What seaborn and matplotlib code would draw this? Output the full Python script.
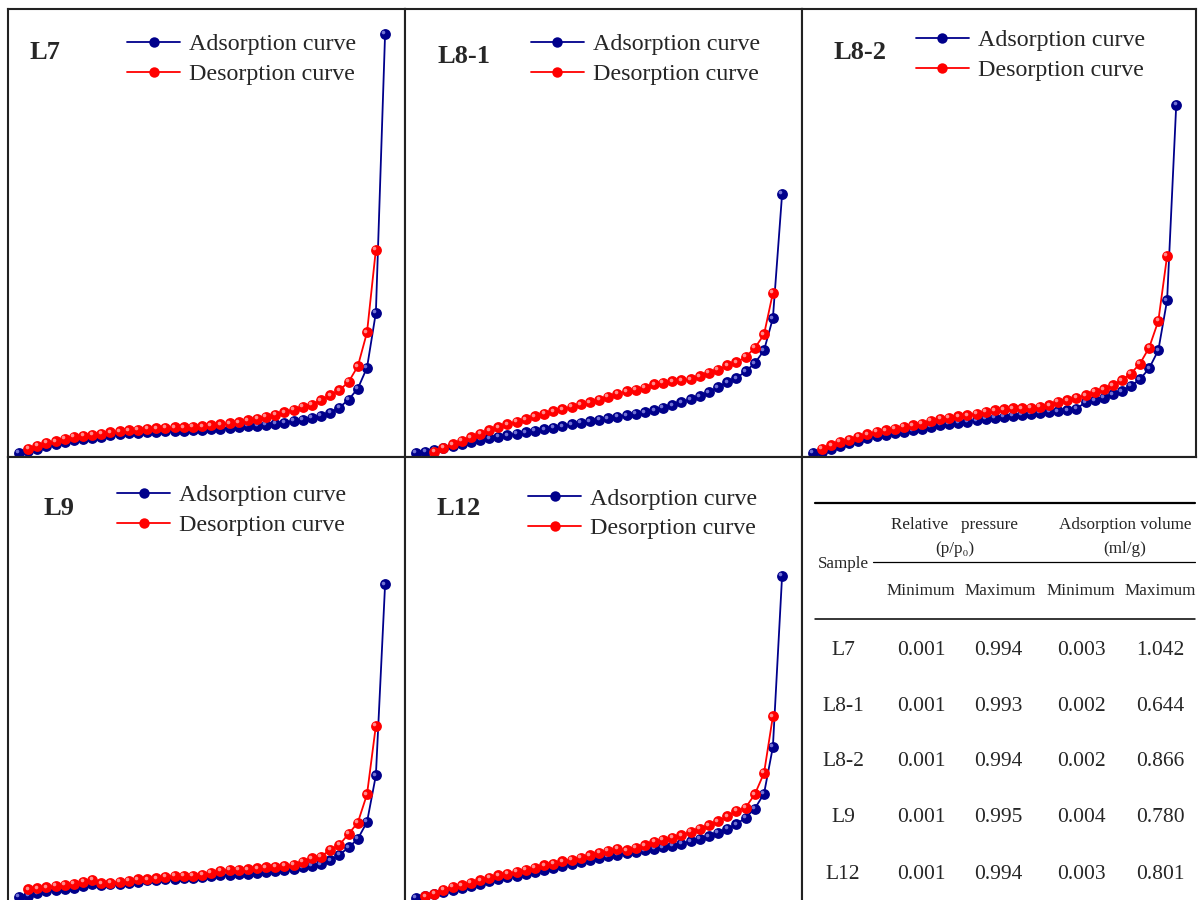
import numpy as np
import matplotlib
matplotlib.use("Agg")
import matplotlib.pyplot as plt
import matplotlib.transforms as mtransforms
import seaborn as sns

# relative pressure grid p/p0 (shared by all samples)
p_rel = [0.001, 0.026, 0.051, 0.075, 0.100, 0.125, 0.150, 0.175, 0.200, 0.224,
         0.249, 0.274, 0.299, 0.324, 0.349, 0.373, 0.398, 0.423, 0.448, 0.473,
         0.498, 0.522, 0.547, 0.572, 0.597, 0.622, 0.647, 0.671, 0.696, 0.721,
         0.746, 0.771, 0.796, 0.820, 0.845, 0.870, 0.895, 0.920, 0.945, 0.969,
         0.994]

# adsorption volume (ml/g)
l7_ads = [0.003, 0.0067, 0.0129, 0.0191, 0.0241, 0.0290, 0.0340, 0.0377, 0.0402, 0.0427,
          0.0464, 0.0489, 0.0514, 0.0526, 0.0538, 0.0551, 0.0563, 0.0576, 0.0576, 0.0588,
          0.0600, 0.0613, 0.0625, 0.0650, 0.0662, 0.0687, 0.0700, 0.0724, 0.0749, 0.0774,
          0.0811, 0.0848, 0.0898, 0.0948, 0.1022, 0.1146, 0.1344, 0.1617, 0.2138, 0.3502,
          1.042]
l7_des = [0.0129, 0.0204, 0.0271, 0.0310, 0.0370, 0.0419, 0.0452, 0.0476, 0.0501, 0.0533,
          0.0558, 0.0583, 0.0600, 0.0618, 0.0633, 0.0643, 0.0657, 0.0657, 0.0667, 0.0682,
          0.0707, 0.0732, 0.0757, 0.0781, 0.0831, 0.0866, 0.0915, 0.0972, 0.1029, 0.1096,
          0.1163, 0.1220, 0.1327, 0.1451, 0.1575, 0.1783, 0.2170, 0.3013, 0.5064]

l81_ads = [0.002, 0.0045, 0.0099, 0.0149, 0.0199, 0.0248, 0.0298, 0.0347, 0.0385, 0.0422,
           0.0459, 0.0496, 0.0533, 0.0571, 0.0608, 0.0645, 0.0682, 0.0732, 0.0769, 0.0806,
           0.0843, 0.0881, 0.0918, 0.0955, 0.0992, 0.1029, 0.1079, 0.1141, 0.1203, 0.1277,
           0.1352, 0.1426, 0.1525, 0.1649, 0.1773, 0.1873, 0.2046, 0.2245, 0.2567, 0.3361,
           0.644]
l81_des = [0.0045, 0.0144, 0.0231, 0.0318, 0.0404, 0.0491, 0.0578, 0.0652, 0.0727, 0.0789,
           0.0851, 0.0925, 0.0987, 0.1049, 0.1099, 0.1161, 0.1223, 0.1272, 0.1334, 0.1409,
           0.1483, 0.1545, 0.1582, 0.1632, 0.1719, 0.1756, 0.1793, 0.1818, 0.1843, 0.1917,
           0.2004, 0.2078, 0.2190, 0.2264, 0.2401, 0.2624, 0.2959, 0.3988]

l82_ads = [0.002, 0.0050, 0.0124, 0.0199, 0.0261, 0.0323, 0.0385, 0.0434, 0.0471, 0.0509,
           0.0546, 0.0583, 0.0620, 0.0670, 0.0719, 0.0744, 0.0769, 0.0794, 0.0831, 0.0868,
           0.0893, 0.0918, 0.0943, 0.0967, 0.0992, 0.1017, 0.1037, 0.1054, 0.1079, 0.1116,
           0.1277, 0.1327, 0.1394, 0.1476, 0.1550, 0.1682, 0.1848, 0.2121, 0.2567, 0.3807,
           0.866]
l82_des = [0.0129, 0.0211, 0.0293, 0.0352, 0.0417, 0.0484, 0.0541, 0.0583, 0.0625, 0.0665,
           0.0707, 0.0749, 0.0814, 0.0873, 0.0898, 0.0930, 0.0955, 0.0997, 0.1037, 0.1079,
           0.1104, 0.1124, 0.1124, 0.1143, 0.1168, 0.1203, 0.1285, 0.1327, 0.1384, 0.1451,
           0.1533, 0.1600, 0.1699, 0.1823, 0.1989, 0.2237, 0.2634, 0.3294, 0.4906]

l9_ads = [0.004, 0.0072, 0.0134, 0.0184, 0.0221, 0.0246, 0.0271, 0.0320, 0.0357, 0.0345,
          0.0357, 0.0370, 0.0395, 0.0419, 0.0457, 0.0469, 0.0481, 0.0494, 0.0506, 0.0519,
          0.0531, 0.0556, 0.0581, 0.0593, 0.0605, 0.0618, 0.0643, 0.0667, 0.0692, 0.0717,
          0.0729, 0.0779, 0.0816, 0.0853, 0.0953, 0.1089, 0.1275, 0.1486, 0.1907, 0.3061,
          0.780]
l9_des = [0.0238, 0.0263, 0.0288, 0.0320, 0.0345, 0.0370, 0.0427, 0.0469, 0.0387, 0.0402,
          0.0427, 0.0452, 0.0486, 0.0486, 0.0511, 0.0551, 0.0568, 0.0568, 0.0576, 0.0593,
          0.0650, 0.0692, 0.0717, 0.0717, 0.0734, 0.0759, 0.0784, 0.0799, 0.0816, 0.0841,
          0.0923, 0.1007, 0.1047, 0.1213, 0.1337, 0.1610, 0.1890, 0.2594, 0.4296]

l12_ads = [0.003, 0.0062, 0.0112, 0.0174, 0.0223, 0.0273, 0.0323, 0.0372, 0.0434, 0.0484,
           0.0533, 0.0571, 0.0620, 0.0670, 0.0719, 0.0769, 0.0819, 0.0868, 0.0918, 0.0967,
           0.1017, 0.1054, 0.1091, 0.1129, 0.1166, 0.1203, 0.1240, 0.1277, 0.1315, 0.1364,
           0.1426, 0.1488, 0.1550, 0.1637, 0.1741, 0.1848, 0.2014, 0.2237, 0.2609, 0.3765,
           0.801]
l12_des = [0.0062, 0.0129, 0.0228, 0.0293, 0.0335, 0.0392, 0.0459, 0.0526, 0.0583, 0.0625,
           0.0665, 0.0724, 0.0774, 0.0831, 0.0873, 0.0930, 0.0972, 0.1022, 0.1079, 0.1136,
           0.1186, 0.1245, 0.1203, 0.1270, 0.1327, 0.1409, 0.1468, 0.1508, 0.1575, 0.1657,
           0.1741, 0.1823, 0.1922, 0.2046, 0.2178, 0.2262, 0.2592, 0.3120, 0.4526]

# table
tbl_samples = ["L7", "L8-1", "L8-2", "L9", "L12"]
tbl_p_min = ["0.001", "0.001", "0.001", "0.001", "0.001"]
tbl_p_max = ["0.994", "0.993", "0.994", "0.995", "0.994"]
tbl_v_min = ["0.003", "0.002", "0.002", "0.004", "0.003"]
tbl_v_max = ["1.042", "0.644", "0.866", "0.780", "0.801"]

sns.set_style("white")
plt.rcParams['font.family'] = ['Liberation Serif', 'DejaVu Serif']

BLUE = "#00008B"
RED = "#FF0000"
W, H = 1198, 900

fig = plt.figure(figsize=(W / 100, H / 100), dpi=100)


def px_axes(x0, y0, x1, y1):
    return fig.add_axes([x0 / W, 1 - y1 / H, (x1 - x0) / W, (y1 - y0) / H])


def draw_curve(ax, x, y, color, hl):
    sns.lineplot(x=x, y=y, ax=ax, color=color, marker='o', markersize=7.8,
                 markeredgewidth=0, linewidth=1.3, sort=False, estimator=None,
                 label=None)
    # small highlight on the balls
    off = mtransforms.offset_copy(ax.transData, fig=fig, x=-1.2, y=1.2, units='points')
    ax.plot(x, y, ls='none', marker='o', markersize=2.6, markeredgewidth=0,
            color=hl, alpha=0.8, transform=off)


# (name, ads, des, des start index, box px, label pos, legend anchor, ylim)
panels = [
    ("L7", l7_ads, l7_des, 1, (8, 9, 405, 457), (0.093, 0.902), (0.300, 0.945), (-0.008, 1.103)),
    ("L8-1", l81_ads, l81_des, 2, (405, 9, 802, 457), (0.149, 0.895), (0.317, 0.945), (-0.008, 1.103)),
    ("L8-2", l82_ads, l82_des, 1, (802, 9, 1196, 457), (0.147, 0.902), (0.289, 0.954), (-0.008, 1.103)),
    ("L9", l9_ads, l9_des, 1, (8, 457, 405, 902), (0.128, 0.885), (0.275, 0.938), (-0.008, 1.096)),
    ("L12", l12_ads, l12_des, 1, (405, 457, 802, 902), (0.136, 0.885), (0.310, 0.931), (-0.008, 1.096)),
]

for name, ads, des, k, box, lab, leg, ylim in panels:
    ax = px_axes(*box)
    x_des = p_rel[k:k + len(des)]
    draw_curve(ax, p_rel, ads, BLUE, "#8f8fe8")
    draw_curve(ax, x_des, des, RED, "#ffb0b0")
    ax.set_xlim(-0.029, 1.048)
    ax.set_ylim(*ylim)
    ax.set_xticks([])
    ax.set_yticks([])
    ax.set_xlabel("")
    ax.set_ylabel("")
    for s in ax.spines.values():
        s.set_visible(True)
        s.set_color("#222222")
        s.set_linewidth(1.5)
    ax.text(lab[0], lab[1], name, transform=ax.transAxes, ha='center', va='center',
            fontsize=19, fontweight='bold')
    handles = [
        plt.Line2D([], [], color=BLUE, marker='o', markersize=7.5, markeredgewidth=0, linewidth=1.3),
        plt.Line2D([], [], color=RED, marker='o', markersize=7.5, markeredgewidth=0, linewidth=1.3),
    ]
    ax.legend(handles, ["Adsorption curve", "Desorption curve"], loc='upper left',
              bbox_to_anchor=leg, frameon=False, fontsize=17.3, borderpad=0,
              borderaxespad=0, handlelength=2.2, handletextpad=0.38,
              labelspacing=0.32, numpoints=1)

# table panel
tax = px_axes(802, 457, 1196, 902)
tax.set_xlim(0, 1)
tax.set_ylim(0, 1)
tax.set_xticks([])
tax.set_yticks([])
for side in ["bottom", "right"]:
    tax.spines[side].set_visible(False)
for side in ["left", "top"]:
    tax.spines[side].set_color("#222222")
    tax.spines[side].set_linewidth(1.5)

tax.plot([0.033, 0.9975], [0.897, 0.897], color='black', lw=1.6)
tax.plot([0.180, 0.9975], [0.764, 0.764], color='black', lw=0.9)
tax.plot([0.033, 0.9975], [0.636, 0.636], color='black', lw=1.1)

hdr = dict(ha='center', va='center', fontsize=12.3)
tax.text(0.388, 0.847, "Relative   pressure", **hdr)
tax.text(0.388, 0.793, "(p/p\u2080)", **hdr)
tax.text(0.820, 0.847, "Adsorption volume", **hdr)
tax.text(0.820, 0.793, "(ml/g)", **hdr)
tax.text(0.104, 0.760, "Sample", **hdr)
for xc, t in zip([0.302, 0.503, 0.708, 0.909], ["Minimum", "Maximum", "Minimum", "Maximum"]):
    tax.text(xc, 0.699, t, **hdr)

row_y = [0.566, 0.440, 0.315, 0.189, 0.061]
cols_x = [0.104, 0.302, 0.497, 0.708, 0.909]
for i, yy in enumerate(row_y):
    vals = [tbl_samples[i], tbl_p_min[i], tbl_p_max[i], tbl_v_min[i], tbl_v_max[i]]
    for xc, v in zip(cols_x, vals):
        tax.text(xc, yy, v, ha='center', va='center', fontsize=15.5)

fig.savefig("out.png", dpi=100)
